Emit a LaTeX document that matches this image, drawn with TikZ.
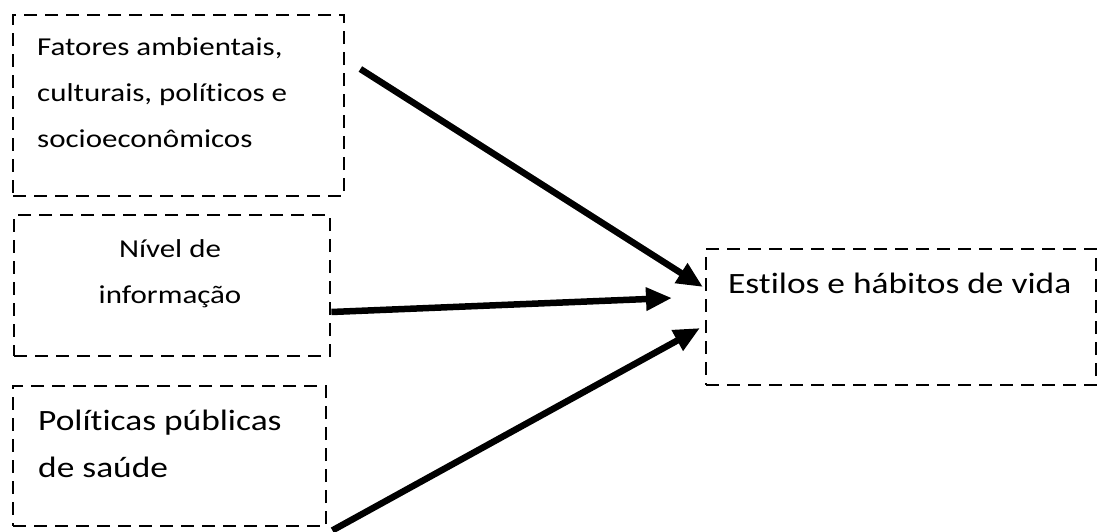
\documentclass[tikz,border=0pt]{standalone}
\usepackage{fontspec}
\setmainfont{Carlito}
\newfontfamily\boxfont[FakeStretch=1.2,Ligatures=NoCommon]{Carlito}
\usetikzlibrary{arrows.meta,calc}
\begin{document}
\begin{tikzpicture}[x=1pt,y=-1pt,
  dbox/.style={draw,line width=2.4pt,dash pattern=on 13pt off 8pt,rectangle,inner sep=0pt},
  txt/.style={inner sep=0pt,font=\boxfont\fontsize{25.8}{46}\selectfont},
  conn/.style={line width=6.5pt,-{Triangle[length=26pt,width=22pt]}}]
\clip (0,0) rectangle (1097,532);
\fill[white] (0,0) rectangle (1097,532);
% boxes
\node[dbox,minimum width=331pt,minimum height=181pt,anchor=north west] (b1) at (12,14) {};
\node[dbox,minimum width=316pt,minimum height=141pt,anchor=north west] (b2) at (13,214) {};
\node[dbox,minimum width=313pt,minimum height=140pt,anchor=north west] (b3) at (12,385) {};
\node[dbox,minimum width=390pt,minimum height=136pt,anchor=north west] (b4) at (705,248) {};
% texts (anchor at baseline of last line)
\node[txt,anchor=base west,align=left] (t1) at (37,147) {Fatores ambientais,\\culturais, políticos e\\socioeconômicos};
\node[txt,anchor=base,align=center] (t2) at (170,303) {Nível de\\informação};
\node[txt,anchor=base west,align=left,font=\boxfont\fontsize{29.5}{47}\selectfont] (t3) at (38,477) {Políticas públicas\\de saúde};
\node[txt,anchor=base west,font=\boxfont\fontsize{29.5}{35}\selectfont] (t4) at (728,293) {Estilos e hábitos de vida};
% connector ends
\coordinate (s1) at ($(b1.north east)+(15,55)$);
\coordinate (e1) at ($(b4.north west)+(-2,39)$);
\coordinate (s2) at ($(b2.north east)+(0,98)$);
\coordinate (e2) at ($(b4.north west)+(-33,50)$);
\coordinate (s3) at ($(b3.south east)+(5,3)$);
\coordinate (e3) at ($(b4.north west)+(-5,80)$);
\draw[conn] (s1) -- (e1);
\draw[conn] (s2) -- (e2);
\draw[conn] (s3) -- (e3);
\end{tikzpicture}
\end{document}
